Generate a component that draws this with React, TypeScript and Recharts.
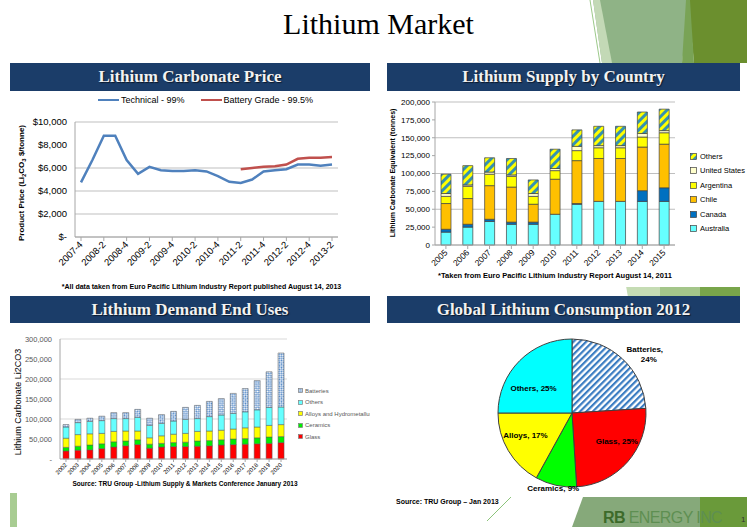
import {
    LineChart, Line, BarChart, Bar, PieChart, Pie, Cell, XAxis, YAxis, CartesianGrid,
} from 'recharts';

// ─── Data: Lithium carbonate price (quarterly, $/tonne) ───────

const PRICE_QUARTERS = [
    '2007-4', '2008-1', '2008-2', '2008-3', '2008-4', '2009-1', '2009-2', '2009-3', '2009-4',
    '2010-1', '2010-2', '2010-3', '2010-4', '2011-1', '2011-2', '2011-3', '2011-4',
    '2012-1', '2012-2', '2012-3', '2012-4', '2013-1', '2013-2',
];
const TECHNICAL_PRICE = [
    4750, 6700, 8800, 8800, 6700, 5500, 6100, 5800, 5750, 5750, 5800, 5700, 5300, 4800,
    4700, 5000, 5700, 5800, 5900, 6300, 6300, 6200, 6300,
];
const BATTERY_PRICE = [
    null, null, null, null, null, null, null, null, null, null, null, null, null, null,
    5900, 6000, 6100, 6150, 6300, 6800, 6900, 6900, 6950,
];
const PRICE_TICKS = [0, 2000, 4000, 6000, 8000, 10000];

// ─── Data: Lithium supply by country (tonnes LCE) ─────────────

const SUPPLY_YEARS = ['2005', '2006', '2007', '2008', '2009', '2010', '2011', '2012', '2013', '2014', '2015'];
const AUSTRALIA = [18000, 25000, 33000, 29000, 29000, 43000, 57000, 61000, 61000, 61000, 61000];
const CANADA = [4000, 4000, 3000, 3000, 3000, 0, 1000, 0, 0, 15000, 19000];
const CHILE = [36000, 36000, 47000, 49000, 25000, 49000, 60000, 60000, 60000, 61000, 61000];
const ARGENTINA = [10000, 17000, 16000, 15000, 11000, 12000, 14000, 15000, 15000, 14000, 16000];
const UNITED_STATES = [4000, 2000, 3000, 2000, 4000, 3000, 6000, 3000, 3000, 5000, 3000];
const OTHERS_SUPPLY = [27000, 27000, 20000, 23000, 19000, 27000, 23000, 27000, 27000, 30000, 30000];
const SUPPLY_TICKS = [0, 25000, 50000, 75000, 100000, 125000, 150000, 175000, 200000];

// ─── Data: Lithium demand end uses (tonnes Li2CO3) ────────────

const DEMAND_YEARS = [
    '2002', '2003', '2004', '2005', '2006', '2007', '2008', '2009', '2010', '2011',
    '2012', '2013', '2014', '2015', '2016', '2017', '2018', '2019', '2020',
];
const GLASS = [20000, 22000, 23000, 26000, 30000, 33000, 36000, 27000, 30000, 31000, 31000, 32000, 33000, 35000, 36000, 37000, 38000, 39000, 41000];
const CERAMICS = [9000, 10000, 12000, 12000, 13000, 12000, 12000, 10000, 9000, 10000, 11000, 13000, 13000, 13000, 14000, 14000, 15000, 16000, 15000];
const ALLOYS = [23000, 29000, 28000, 26000, 26000, 25000, 22000, 16000, 19000, 21000, 22000, 24000, 24000, 24000, 25000, 27000, 27000, 29000, 30000];
const OTHERS_USE = [28000, 30000, 31000, 32000, 32000, 31000, 34000, 31000, 31000, 33000, 35000, 32000, 36000, 38000, 39000, 40000, 43000, 45000, 44000];
const BATTERIES = [6000, 8000, 8000, 11000, 15000, 15000, 20000, 18000, 22000, 24000, 30000, 33000, 38000, 41000, 50000, 58000, 73000, 89000, 135000];
const DEMAND_TICKS = [0, 50000, 100000, 150000, 200000, 250000, 300000];

// ─── Data: Global lithium consumption 2012 (%) ────────────────

const CONSUMPTION_NAMES = ['Batteries', 'Glass', 'Ceramics', 'Alloys', 'Others'];
const CONSUMPTION_SHARE = [24, 25, 9, 17, 25];

// ─── Tables for the charts ────────────────────────────────────

const priceData = PRICE_QUARTERS.map((q, i) => ({ q, technical: TECHNICAL_PRICE[i], battery: BATTERY_PRICE[i] }));
const supplyData = SUPPLY_YEARS.map((year, i) => ({
    year,
    australia: AUSTRALIA[i], canada: CANADA[i], chile: CHILE[i],
    argentina: ARGENTINA[i], us: UNITED_STATES[i], others: OTHERS_SUPPLY[i],
}));
const demandData = DEMAND_YEARS.map((year, i) => ({
    year, glass: GLASS[i], ceramics: CERAMICS[i], alloys: ALLOYS[i], others: OTHERS_USE[i], batteries: BATTERIES[i],
}));
const consumptionData = CONSUMPTION_NAMES.map((name, i) => ({ name, value: CONSUMPTION_SHARE[i] }));

// ─── Styling ──────────────────────────────────────────────────

const SANS = '"Liberation Sans", Arial, sans-serif';
const SERIF = '"Liberation Serif", "DejaVu Serif", serif';
const NAVY = '#1b3d69';
const GRID = '#bfbfbf';

const PIE_COLORS: Record<string, string> = {
    Batteries: 'url(#pieStripes)', Glass: '#ff0000', Ceramics: '#00ff00', Alloys: '#ffff00', Others: '#00ffff',
};
const PIE_LABEL_POS: Record<string, { r: number; dx: number; dy: number }> = {
    Batteries: { r: 1.28, dx: 8, dy: 10 },
    Glass: { r: 0.7, dx: 6, dy: -6 },
    Ceramics: { r: 1.04, dx: -2, dy: 0 },
    Alloys: { r: 0.7, dx: -2, dy: -4 },
    Others: { r: 0.62, dx: -6, dy: 8 },
};

// ─── Small pieces ─────────────────────────────────────────────

// eslint-disable-next-line @typescript-eslint/no-explicit-any
const SlantTick = ({ x, y, payload, size = 9 }: any) => (
    <g transform={`translate(${x},${y})`}>
        <text x={0} y={0} dy={size * 0.35} textAnchor="end" transform="rotate(-45)" fontSize={size} fill="#000" fontFamily={SANS}>
            {payload.value}
        </text>
    </g>
);

function Header({ left, top, width, height, title }: { left: number; top: number; width: number; height: number; title: string }) {
    return (
        <div style={{
            position: 'absolute', left, top, width, height, background: NAVY, color: '#f2f2f2',
            fontFamily: SERIF, fontWeight: 700, fontSize: 17, display: 'flex', alignItems: 'center',
            justifyContent: 'center', textShadow: '1px 1px 1px rgba(0,0,0,0.6)',
        }}>{title}</div>
    );
}

function Swatch({ fill, size, border = '#404040' }: { fill: string; size: number; border?: string }) {
    return (
        <svg width={size} height={size} style={{ display: 'block', flex: 'none' }}>
            <rect x={0.5} y={0.5} width={size - 1} height={size - 1} fill={fill} stroke={border} strokeWidth={0.7} />
        </svg>
    );
}

// eslint-disable-next-line @typescript-eslint/no-explicit-any
const renderPieLabel = (p: any) => {
    const pos = PIE_LABEL_POS[p.name];
    const rad = Math.PI / 180;
    const r = p.outerRadius * pos.r;
    const x = p.cx + r * Math.cos(-p.midAngle * rad) + pos.dx;
    const y = p.cy + r * Math.sin(-p.midAngle * rad) + pos.dy;
    const style = { fontSize: 8, fontWeight: 700, fill: '#000', fontFamily: SANS };
    if (p.name === 'Batteries') {
        return (
            <text x={x} y={y} textAnchor="middle" style={style}>
                <tspan x={x} dy={-2}>{`${p.name},`}</tspan>
                <tspan x={x + 4} dy={10}>{`${p.value}%`}</tspan>
            </text>
        );
    }
    return <text x={x} y={y} textAnchor="middle" dominantBaseline="central" style={style}>{`${p.name}, ${p.value}%`}</text>;
};

// ─── Page ─────────────────────────────────────────────────────

export default function App() {
    const supplyLegend = [
        { name: 'Others', fill: 'url(#supplyStripes)' },
        { name: 'United States', fill: '#ffffcc' },
        { name: 'Argentina', fill: '#ffff00' },
        { name: 'Chile', fill: '#ffc000' },
        { name: 'Canada', fill: '#0070c0' },
        { name: 'Australia', fill: '#66ffff' },
    ];
    const demandLegend = [
        { name: 'Batteries', fill: 'url(#checks)' },
        { name: 'Others', fill: '#66ffff' },
        { name: 'Alloys and Hydrometallurgy', fill: '#ffff00' },
        { name: 'Ceramics', fill: '#00ee00' },
        { name: 'Glass', fill: '#ff0000' },
    ];

    return (
        <div style={{ position: 'absolute', left: 0, top: 0, width: 747, height: 527, background: '#fff', overflow: 'hidden', fontFamily: SANS }}>
            {/* shared patterns + slide decoration */}
            <svg width={747} height={527} style={{ position: 'absolute', left: 0, top: 0 }}>
                <defs>
                    <pattern id="supplyStripes" patternUnits="userSpaceOnUse" width={6} height={6} patternTransform="rotate(45)">
                        <rect width={6} height={6} fill="#ffff00" />
                        <rect width={3} height={6} fill="#3592b0" />
                    </pattern>
                    <pattern id="pieStripes" patternUnits="userSpaceOnUse" width={4.5} height={4.5} patternTransform="rotate(45)">
                        <rect width={4.5} height={4.5} fill="#ffffff" />
                        <rect width={2.2} height={4.5} fill="#3a7cc2" />
                    </pattern>
                    <pattern id="checks" patternUnits="userSpaceOnUse" width={3} height={3} patternTransform="rotate(45)">
                        <rect width={3} height={3} fill="#ffffff" />
                        <rect width={1.5} height={1.5} fill="#4f86c6" />
                        <rect x={1.5} y={1.5} width={1.5} height={1.5} fill="#4f86c6" />
                    </pattern>
                </defs>
                {/* top right */}
                <polygon points="593,0 690,0 682,63 602,63" fill="#8fb386" />
                <polygon points="593,0 600,0 612,63 602,63" fill="#c3d9b6" />
                <polygon points="688,0 747,0 747,63 694,63" fill="#6b8f2e" />
                <polygon points="682,63 694,63 690,0 686,0" fill="#79a356" />
                <line x1={590} y1={0} x2={600} y2={63} stroke="#9cc98a" strokeWidth={1} />
                {/* gap band */}
                <polygon points="626,286 660,286 660,297 628,297" fill="#c5dcb4" />
                <polygon points="660,286 700,286 700,297 660,297" fill="#a4c68a" />
                <polygon points="700,286 740,286 740,297 700,297" fill="#78a54a" />
                {/* bottom right */}
                <polygon points="583,497 700,497 700,527 572,527" fill="#86a97a" />
                <polygon points="700,497 747,497 747,527 700,527" fill="#6a9a3a" />
                <line x1={487} y1={521} x2={511} y2={497} stroke="#8cc47a" strokeWidth={1} />
                <rect x={10} y={489} width={7} height={38} fill="#a8cc92" />
                <text x={603} y={523} fontFamily={SANS} fontSize={16} letterSpacing={-0.6}>
                    <tspan fill="#3d6b2a" fontWeight={700}>RB </tspan>
                    <tspan fill="#5e8f52">ENERGY INC</tspan>
                </text>
                <text x={741} y={522} fontSize={8} fill="#333" fontFamily={SANS}>1</text>
            </svg>

            {/* slide title */}
            <div style={{ position: 'absolute', left: 0, top: 7, width: 757, textAlign: 'center', fontFamily: SERIF, fontSize: 30, color: '#000' }}>
                Lithium Market
            </div>

            {/* ─── Panel 1: price ─── */}
            <div style={{ position: 'absolute', left: 10, top: 91, width: 360, height: 202, background: '#fff' }} />
            <Header left={10} top={63} width={360} height={28} title="Lithium Carbonate Price" />
            <div style={{ position: 'absolute', left: 10, top: 91 }}>
                <LineChart width={360} height={196} data={priceData} margin={{ top: 31, right: 32, left: 15, bottom: 0 }}>
                    <CartesianGrid stroke={GRID} vertical={false} />
                    <XAxis dataKey="q" interval={1} height={50} padding={{ left: 6, right: 6 }} stroke="#a6a6a6"
                        tickSize={4} tick={(p) => <SlantTick {...p} size={9.5} />} />
                    <YAxis domain={[0, 10000]} ticks={PRICE_TICKS} width={50} stroke="#a6a6a6" tickLine={false}
                        tick={{ fontSize: 9.5, fill: '#000', fontFamily: SANS }}
                        tickFormatter={(v) => (v === 0 ? '$-' : `$${v.toLocaleString('en-US')}`)} />
                    <Line dataKey="technical" stroke="#4f81bd" strokeWidth={2.5} dot={false} isAnimationActive={false} />
                    <Line dataKey="battery" stroke="#c0504d" strokeWidth={2.5} dot={false} isAnimationActive={false} />
                </LineChart>
            </div>
            <div style={{ position: 'absolute', left: 98, top: 95, display: 'flex', alignItems: 'center', fontSize: 9, color: '#000' }}>
                <span style={{ width: 21, height: 2.5, background: '#4f81bd', marginRight: 2 }} />
                <span style={{ marginRight: 16 }}>Technical - 99%</span>
                <span style={{ width: 21, height: 2.5, background: '#c0504d', marginRight: 2 }} />
                <span>Battery Grade - 99.5%</span>
            </div>
            <div style={{
                position: 'absolute', left: 22, top: 183, transform: 'translate(-50%,-50%) rotate(-90deg)',
                whiteSpace: 'nowrap', fontSize: 8, fontWeight: 700,
            }}>
                Product Price (Li<sub style={{ fontSize: 6 }}>2</sub>CO<sub style={{ fontSize: 6 }}>3</sub> $/tonne)
            </div>
            <div style={{ position: 'absolute', left: 10, top: 283, width: 383, textAlign: 'center', fontSize: 7, fontWeight: 700 }}>
                *All data taken from Euro Pacific Lithium Industry Report published August 14, 2013
            </div>

            {/* ─── Panel 2: supply ─── */}
            <div style={{ position: 'absolute', left: 387, top: 91, width: 353, height: 196, background: '#fff' }} />
            <Header left={387} top={63} width={353} height={28} title="Lithium Supply by Country" />
            <div style={{ position: 'absolute', left: 387, top: 91 }}>
                <BarChart width={353} height={184} data={supplyData} margin={{ top: 11, right: 65, left: 10, bottom: 0 }} barSize={10}>
                    <CartesianGrid stroke={GRID} vertical={false} />
                    <XAxis dataKey="year" interval={0} height={30} stroke="#a6a6a6" tickSize={4}
                        tick={(p) => <SlantTick {...p} size={8.5} />} />
                    <YAxis domain={[0, 200000]} ticks={SUPPLY_TICKS} width={38} stroke="#a6a6a6" tickSize={3}
                        tick={{ fontSize: 8, fill: '#000', fontFamily: SANS }}
                        tickFormatter={(v) => v.toLocaleString('en-US')} />
                    <Bar dataKey="australia" stackId="s" fill="#66ffff" stroke="#404040" strokeWidth={0.7} isAnimationActive={false} />
                    <Bar dataKey="canada" stackId="s" fill="#0070c0" stroke="#404040" strokeWidth={0.7} isAnimationActive={false} />
                    <Bar dataKey="chile" stackId="s" fill="#ffc000" stroke="#404040" strokeWidth={0.7} isAnimationActive={false} />
                    <Bar dataKey="argentina" stackId="s" fill="#ffff00" stroke="#404040" strokeWidth={0.7} isAnimationActive={false} />
                    <Bar dataKey="us" stackId="s" fill="#ffffcc" stroke="#404040" strokeWidth={0.7} isAnimationActive={false} />
                    <Bar dataKey="others" stackId="s" fill="url(#supplyStripes)" stroke="#404040" strokeWidth={0.7} isAnimationActive={false} />
                </BarChart>
            </div>
            <div style={{ position: 'absolute', left: 690, top: 149, fontSize: 7.5, color: '#000' }}>
                {supplyLegend.map((it) => (
                    <div key={it.name} style={{ display: 'flex', alignItems: 'center', height: 14.5, gap: 3 }}>
                        <Swatch fill={it.fill} size={7} />
                        <span style={{ whiteSpace: 'nowrap' }}>{it.name}</span>
                    </div>
                ))}
            </div>
            <div style={{
                position: 'absolute', left: 392, top: 173, transform: 'translate(-50%,-50%) rotate(-90deg)',
                whiteSpace: 'nowrap', fontSize: 7, fontWeight: 700,
            }}>
                Lithium Carbonate Equivalent (tonnes)
            </div>
            <div style={{ position: 'absolute', left: 435, top: 271, width: 240, textAlign: 'center', fontSize: 7.5, fontWeight: 700, whiteSpace: 'nowrap' }}>
                *Taken from Euro Pacific Lithium Industry Report August 14, 2011
            </div>

            {/* ─── Panel 3: demand ─── */}
            <div style={{ position: 'absolute', left: 10, top: 323, width: 360, height: 170, background: '#fff', overflow: 'hidden' }}>
                <div style={{ position: 'absolute', left: 0, top: 7 }}>
                    <BarChart width={280} height={151} data={demandData} margin={{ top: 9, right: 3, left: 10, bottom: 0 }} barSize={6}>
                        <CartesianGrid stroke="#d9d9d9" vertical={false} />
                        <XAxis dataKey="year" interval={0} height={22} stroke="#a6a6a6" tickSize={3}
                            tick={(p) => <SlantTick {...p} size={6} />} />
                        <YAxis domain={[0, 300000]} ticks={DEMAND_TICKS} width={40} stroke="#a6a6a6" tickLine={false}
                            tick={{ fontSize: 7.5, fill: '#595959', fontFamily: SANS }}
                            tickFormatter={(v) => (v === 0 ? '-' : v.toLocaleString('en-US'))} />
                        <Bar dataKey="glass" stackId="d" fill="#ff0000" stroke="#595959" strokeWidth={0.5} isAnimationActive={false} />
                        <Bar dataKey="ceramics" stackId="d" fill="#00ee00" stroke="#595959" strokeWidth={0.5} isAnimationActive={false} />
                        <Bar dataKey="alloys" stackId="d" fill="#ffff00" stroke="#595959" strokeWidth={0.5} isAnimationActive={false} />
                        <Bar dataKey="others" stackId="d" fill="#66ffff" stroke="#595959" strokeWidth={0.5} isAnimationActive={false} />
                        <Bar dataKey="batteries" stackId="d" fill="url(#checks)" stroke="#595959" strokeWidth={0.5} isAnimationActive={false} />
                    </BarChart>
                </div>
                <div style={{ position: 'absolute', left: 288, top: 62, fontSize: 6, color: '#595959' }}>
                    {demandLegend.map((it) => (
                        <div key={it.name} style={{ display: 'flex', alignItems: 'center', height: 11.5, gap: 2 }}>
                            <Swatch fill={it.fill} size={5} border="#7f7f7f" />
                            <span style={{ whiteSpace: 'nowrap' }}>{it.name}</span>
                        </div>
                    ))}
                </div>
                <div style={{
                    position: 'absolute', left: 8, top: 79, transform: 'translate(-50%,-50%) rotate(-90deg)',
                    whiteSpace: 'nowrap', fontSize: 9, color: '#000',
                }}>
                    Lithium Carbonate Li2CO3
                </div>
                <div style={{ position: 'absolute', left: 60, top: 157, width: 230, textAlign: 'center', fontSize: 6.5, fontWeight: 700, whiteSpace: 'nowrap' }}>
                    Source: TRU Group -Lithium Supply &amp; Markets Conference January 2013
                </div>
            </div>
            <Header left={10} top={296} width={360} height={27} title="Lithium Demand End Uses" />

            {/* ─── Panel 4: consumption pie ─── */}
            <Header left={387} top={296} width={353} height={27} title="Global Lithium Consumption 2012" />
            <div style={{ position: 'absolute', left: 387, top: 323 }}>
                <PieChart width={353} height={180}>
                    <Pie data={consumptionData} dataKey="value" nameKey="name" cx={180} cy={85} outerRadius={74}
                        startAngle={90} endAngle={-270} stroke="#404040" strokeWidth={1}
                        label={renderPieLabel} labelLine={false} isAnimationActive={false}>
                        {consumptionData.map((d) => (
                            <Cell key={d.name} fill={PIE_COLORS[d.name]} />
                        ))}
                    </Pie>
                </PieChart>
            </div>
            <div style={{ position: 'absolute', left: 396, top: 498, fontSize: 7, fontWeight: 700 }}>
                Source: TRU Group – Jan 2013
            </div>
        </div>
    );
}
